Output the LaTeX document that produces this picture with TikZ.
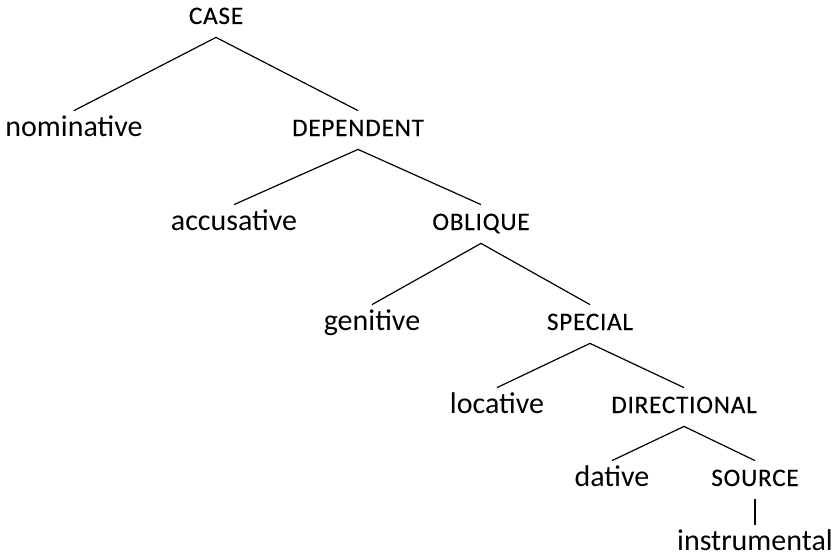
\documentclass[tikz,border=0pt]{standalone}
\usepackage{fontspec}
\setmainfont{Carlito}
% Carlito has no real small caps, so the feature labels use smaller capitals
\newfontfamily\capsfont[LetterSpace=3, FakeBold=0.2]{Carlito}

\begin{document}
\begin{tikzpicture}[x=0.5pt, y=-0.5pt,
		term/.style={anchor=base, inner sep=0pt, text height=12.5pt, text depth=6.5pt,
			font=\fontsize{15}{18}\selectfont},
		feat/.style={term, font=\capsfont\fontsize{12.6}{15}\selectfont},
		branch/.style={black, line width=0.6pt}]
		\useasboundingbox (0, 0) rectangle (833, 556);

		% features in capitals, case values in lower case
		\node[feat]	(case)	at (216, 24)	{CASE};
		\node[term]	(nom)	at (74, 136)	{nominative};
		\node[feat]	(dep)	at (358, 136)	{DEPENDENT};
		\node[term]	(acc)	at (234, 230)	{accusative};
		\node[feat]	(obl)	at (481, 230)	{OBLIQUE};
		\node[term]	(gen)	at (372, 330)	{genitive};
		\node[feat]	(spec)	at (590, 330)	{SPECIAL};
		\node[term]	(loc)	at (497, 413)	{locative};
		\node[feat]	(dir)	at (684, 413)	{DIRECTIONAL};
		\node[term]	(dat)	at (612, 486)	{dative};
		\node[feat]	(src)	at (755, 486)	{SOURCE};
		\node[term]	(ins)	at (755, 550)	{instrumental};

		\draw[branch]	(nom.north) -- (case.south) -- (dep.north);
		\draw[branch]	(acc.north) -- (dep.south) -- (obl.north);
		\draw[branch]	(gen.north) -- (obl.south) -- (spec.north);
		\draw[branch]	(loc.north) -- (spec.south) -- (dir.north);
		\draw[branch]	(dat.north) -- (dir.south) -- (src.north);
		\draw[branch]	(src.south) -- (ins.north);
	\end{tikzpicture}
\end{document}
